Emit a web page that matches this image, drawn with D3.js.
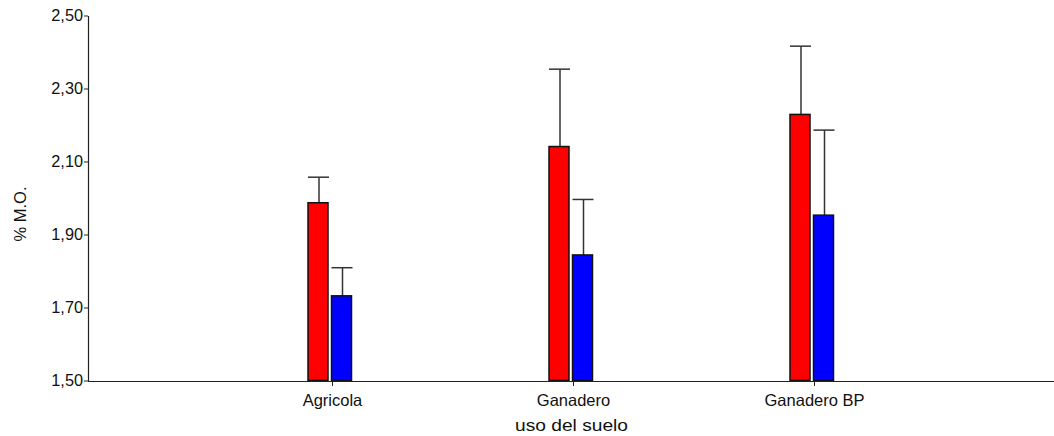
<!DOCTYPE html>
<html>
<head>
<meta charset="utf-8">
<script src="https://cdn.jsdelivr.net/npm/d3@7"></script>
<style>
  body { margin: 0; background: #fff; }
  svg { display: block; font-family: "Liberation Sans", Arial, sans-serif; }
</style>
</head>
<body>
<svg id="chart" width="1054" height="436"></svg>
<script>
// datos
const categories = ['Agricola', 'Ganadero', 'Ganadero BP']
const redValues = [1.987, 2.141, 2.229]
const redErrors = [2.057, 2.353, 2.416]
const blueValues = [1.732, 1.844, 1.953]
const blueErrors = [1.809, 1.996, 2.186]
const yTicks = [1.5, 1.7, 1.9, 2.1, 2.3, 2.5]

const svg = d3.select('#chart')

const x = d3.scalePoint().domain(categories).range([91, 1055]).padding(1)
const y = d3.scaleLinear().domain([1.5, 2.5]).range([380.5, 15.5])

const fmt = d => d3.format('.2f')(d).replace('.', ',')

const barW = 20
const series = [
    { values: redValues, errors: redErrors, color: '#ff0000', off: -24 },
    { values: blueValues, errors: blueErrors, color: '#0000ff', off: -0.5 }
]

series.forEach(s => {
    const g = svg.append('g')
    const rows = categories.map((c, i) => ({ c, v: s.values[i], e: s.errors[i] }))

    // barra de error
    g.selectAll('.err').data(rows).enter().append('line')
        .attr('x1', d => x(d.c) + s.off + barW / 2 + 1)
        .attr('x2', d => x(d.c) + s.off + barW / 2 + 1)
        .attr('y1', d => y(d.v))
        .attr('y2', d => y(d.e))
        .attr('stroke', '#333').attr('stroke-width', 1.5)
    g.selectAll('.cap').data(rows).enter().append('line')
        .attr('x1', d => x(d.c) + s.off)
        .attr('x2', d => x(d.c) + s.off + barW + 1)
        .attr('y1', d => y(d.e))
        .attr('y2', d => y(d.e))
        .attr('stroke', '#333').attr('stroke-width', 1.5)

    g.selectAll('rect').data(rows).enter().append('rect')
        .attr('x', d => x(d.c) + s.off)
        .attr('y', d => y(d.v))
        .attr('width', barW)
        .attr('height', d => y(1.5) - y(d.v))
        .attr('fill', s.color)
        .attr('stroke', '#111').attr('stroke-width', 1.5)
})

// eje y
const yAxis = svg.append('g').attr('transform', 'translate(88,0)')
    .call(d3.axisLeft(y).tickValues(yTicks).tickFormat(fmt).tickSize(4).tickSizeOuter(0))
yAxis.select('.domain').attr('stroke', '#222').attr('stroke-width', 1.2)
yAxis.selectAll('.tick line').attr('stroke', '#222')
yAxis.selectAll('text').attr('font-size', 16.3).attr('fill', '#111').attr('x', -5)
    .attr('font-family', '"Liberation Sans", Arial, sans-serif')

// eje x
const xAxis = svg.append('g').attr('transform', 'translate(0,381)')
    .call(d3.axisBottom(x).tickSize(5).tickSizeOuter(0))
xAxis.select('.domain').attr('d', 'M88,0.5H1054').attr('stroke', '#222').attr('stroke-width', 1.2)
xAxis.selectAll('.tick line').attr('stroke', '#222')
xAxis.selectAll('text').attr('font-size', 16.5).attr('fill', '#111').attr('y', 13)
    .attr('font-family', '"Liberation Sans", Arial, sans-serif')

svg.append('text')
    .attr('x', 571.5).attr('y', 431)
    .attr('text-anchor', 'middle')
    .attr('font-size', 17).attr('fill', '#111')
    .attr('textLength', 113).attr('lengthAdjust', 'spacingAndGlyphs')
    .text('uso del suelo')

svg.append('text')
    .attr('transform', 'translate(26,214) rotate(-90)')
    .attr('text-anchor', 'middle')
    .attr('font-size', 16.5).attr('fill', '#111')
    .text('% M.O.')
</script>
</body>
</html>
